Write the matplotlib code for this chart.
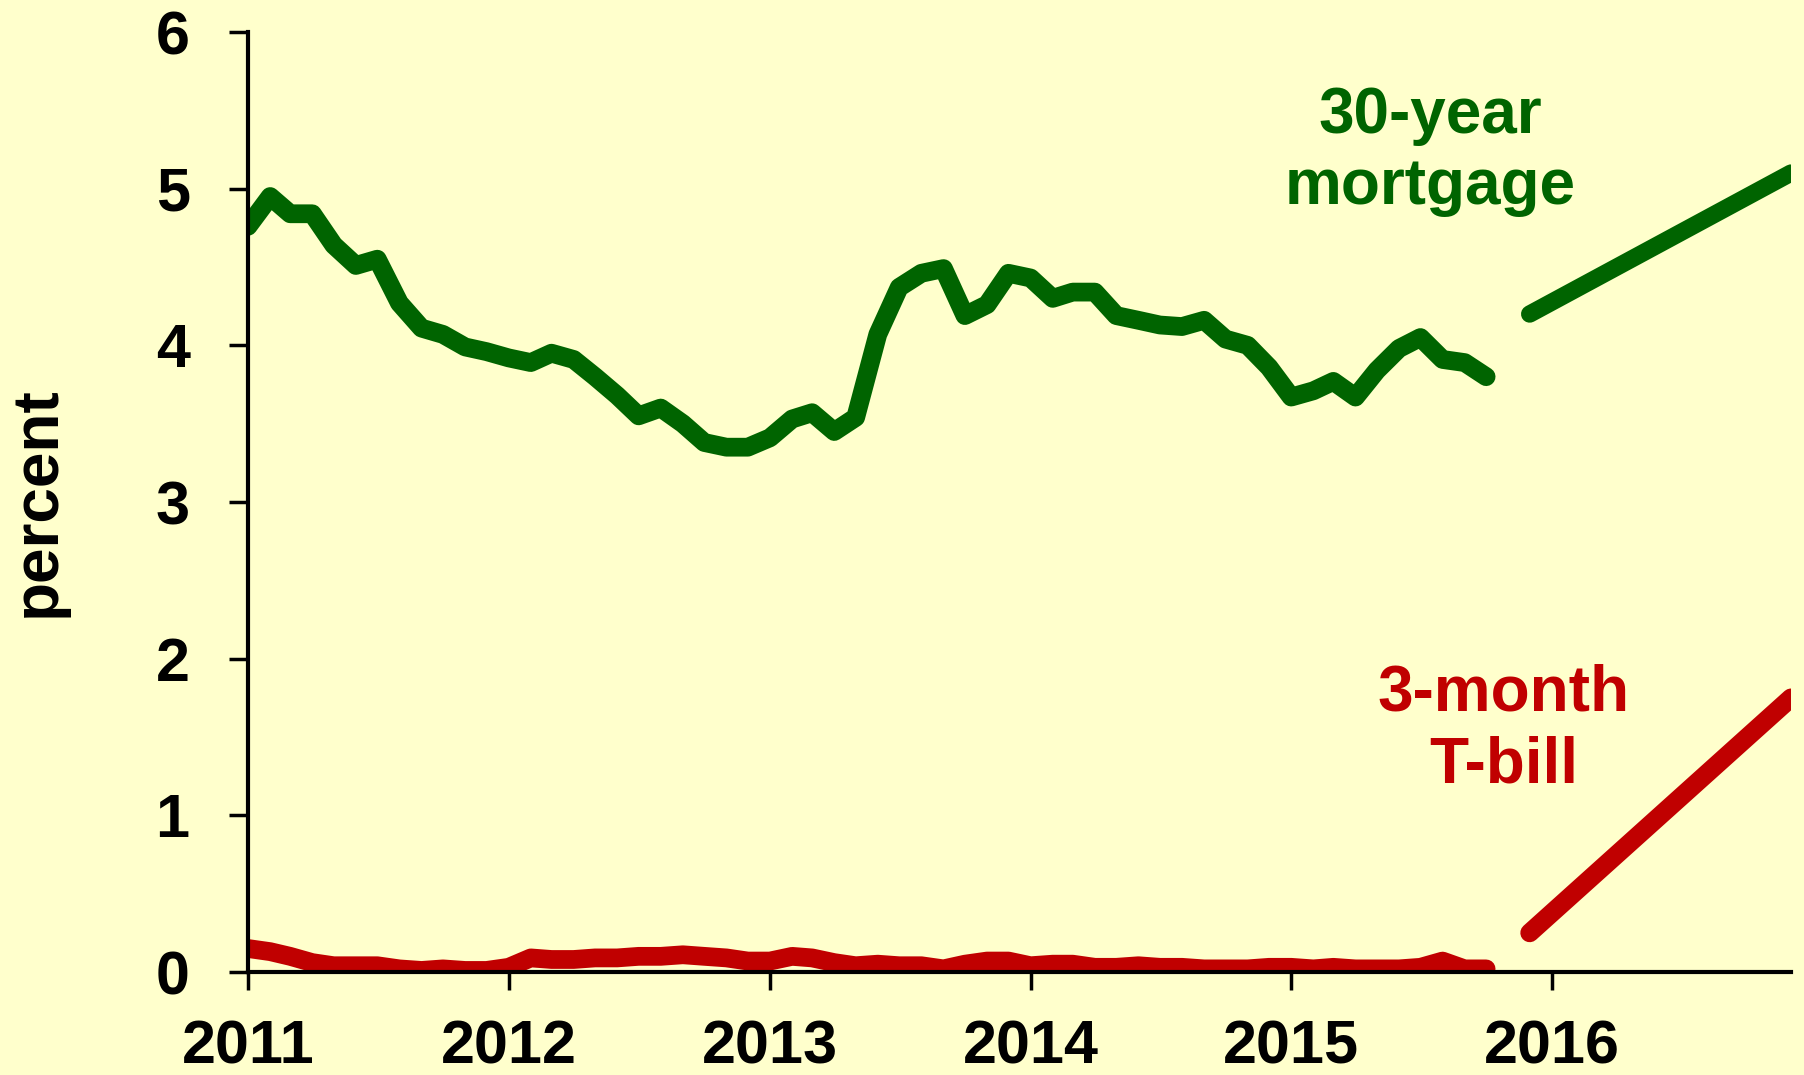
import matplotlib
matplotlib.use("Agg")
import matplotlib.pyplot as plt
import matplotlib.dates as mdates
import pandas as pd

# monthly rates, Jan 2011 - Oct 2015
months = pd.date_range("2011-01-01", periods=58, freq="MS")
mortgage = [4.76, 4.95, 4.84, 4.84, 4.64, 4.51, 4.55, 4.27, 4.11, 4.07, 3.99, 3.96,
            3.92, 3.89, 3.95, 3.91, 3.80, 3.68, 3.55, 3.60, 3.50, 3.38, 3.35, 3.35,
            3.41, 3.53, 3.57, 3.45, 3.54, 4.07, 4.37, 4.46, 4.49, 4.19, 4.26, 4.46,
            4.43, 4.30, 4.34, 4.34, 4.19, 4.16, 4.13, 4.12, 4.16, 4.04, 4.00, 3.86,
            3.67, 3.71, 3.77, 3.67, 3.84, 3.98, 4.05, 3.91, 3.89, 3.80]
tbill = [0.15, 0.13, 0.10, 0.06, 0.04, 0.04, 0.04, 0.02, 0.01, 0.02, 0.01, 0.01,
         0.03, 0.09, 0.08, 0.08, 0.09, 0.09, 0.10, 0.10, 0.11, 0.10, 0.09, 0.07,
         0.07, 0.10, 0.09, 0.06, 0.04, 0.05, 0.04, 0.04, 0.02, 0.05, 0.07, 0.07,
         0.04, 0.05, 0.05, 0.03, 0.03, 0.04, 0.03, 0.03, 0.02, 0.02, 0.02, 0.03,
         0.03, 0.02, 0.03, 0.02, 0.02, 0.02, 0.03, 0.07, 0.02, 0.02]

# projected paths
fc_dates = pd.to_datetime(["2015-12-01", "2016-12-01"])
fc_mortgage = [4.2, 5.1]
fc_tbill = [0.25, 1.75]

years = [2011, 2012, 2013, 2014, 2015, 2016]

bg = "#FFFFCC"
green = "#006400"
red = "#C00000"

plt.rcParams["font.family"] = ["Liberation Sans", "DejaVu Sans"]
plt.rcParams["font.weight"] = "bold"

fig, ax = plt.subplots(figsize=(18.04, 10.75), dpi=100)
fig.patch.set_facecolor(bg)
ax.set_facecolor(bg)
fig.subplots_adjust(left=0.1375, right=0.9928, bottom=0.0958, top=0.9702)

lw = 13.5
ax.plot(months, mortgage, color=green, lw=lw, solid_joinstyle="round", solid_capstyle="round")
ax.plot(months, tbill, color=red, lw=lw, solid_joinstyle="round", solid_capstyle="round")
ax.plot(fc_dates, fc_mortgage, color=green, lw=12.5, solid_capstyle="round")
ax.plot(fc_dates, fc_tbill, color=red, lw=13.5, solid_capstyle="round")

ax.set_xlim(pd.Timestamp("2011-01-01"), pd.Timestamp("2016-12-01"))
ax.set_ylim(0, 6)
ax.set_xticks([pd.Timestamp(f"{y}-01-01") for y in years])
ax.xaxis.set_major_formatter(mdates.DateFormatter("%Y"))
ax.set_yticks(range(7))

for s in ["top", "right"]:
    ax.spines[s].set_visible(False)
for s in ["left", "bottom"]:
    ax.spines[s].set_linewidth(3)
    ax.spines[s].set_color("black")

ax.tick_params(axis="y", direction="out", length=14, width=2.5, pad=28, labelsize=44)
ax.tick_params(axis="x", direction="out", length=13, width=2.5, pad=21, labelsize=44)

ax.set_ylabel("percent", fontsize=46, fontweight="bold")
ax.yaxis.set_label_coords(-0.117, 0.5)

ax.text(pd.Timestamp("2015-07-15"), 4.90, "30-year\nmortgage", color=green, fontsize=46,
        fontweight="bold", ha="center", va="baseline", linespacing=1.25)
ax.text(pd.Timestamp("2015-10-25"), 1.21, "3-month\nT-bill", color=red, fontsize=46,
        fontweight="bold", ha="center", va="baseline", linespacing=1.25)

fig.savefig("out.png", dpi=100, facecolor=bg)
